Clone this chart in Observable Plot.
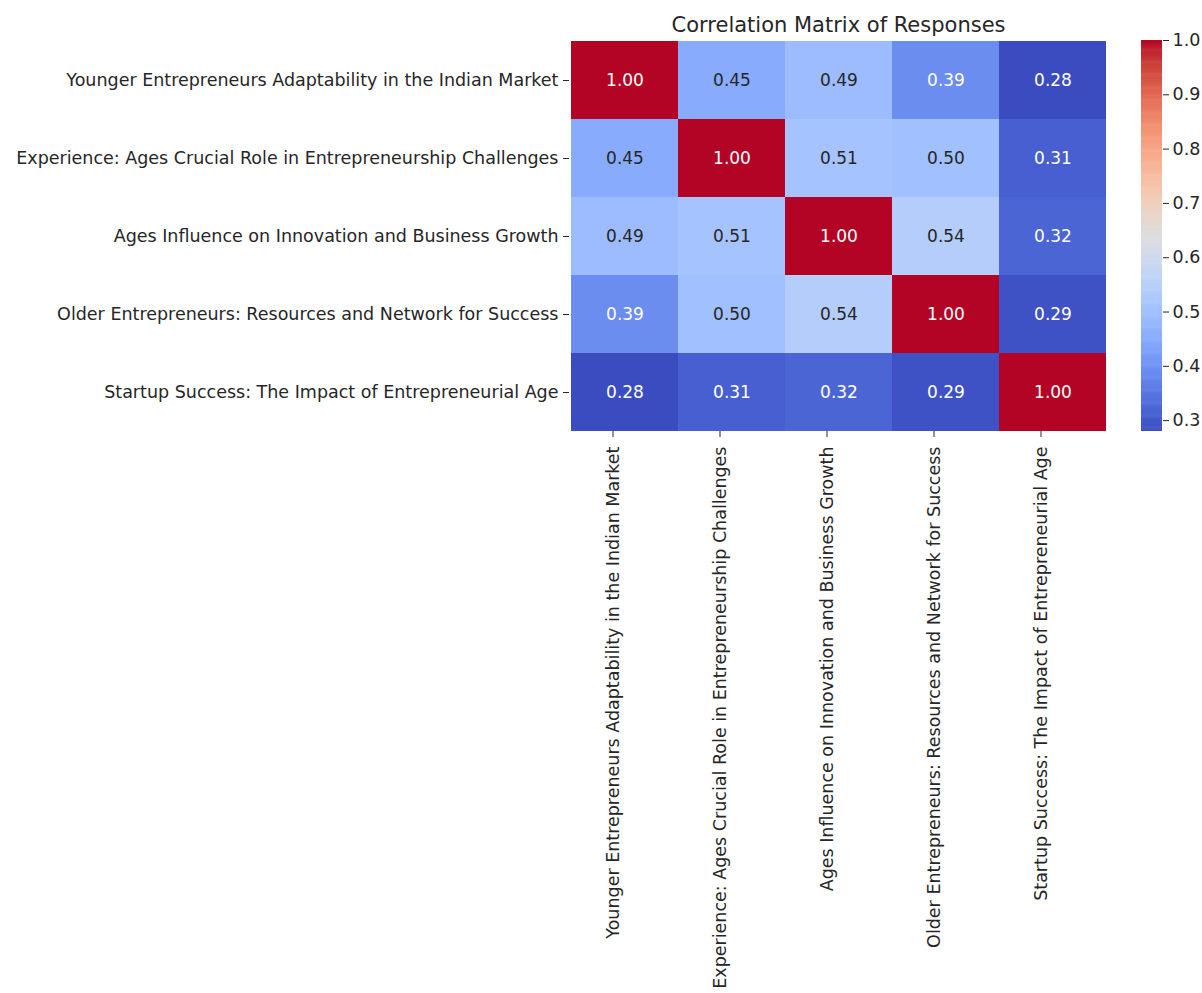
<!DOCTYPE html>
<html>
<head>
<meta charset="utf-8">
<script src="https://cdn.jsdelivr.net/npm/d3@7"></script>
<script src="https://cdn.jsdelivr.net/npm/@observablehq/plot@0.6"></script>
<style>
  html, body { margin: 0; padding: 0; background: #fff; }
  #wrap { position: relative; width: 1202px; height: 993px; font-family: "DejaVu Sans", sans-serif; }
  #wrap svg { position: absolute; top: 0; }
</style>
</head>
<body>
<div id="wrap"></div>
<script>
const title = "Correlation Matrix of Responses";
const labels = [
  "Younger Entrepreneurs Adaptability in the Indian Market",
  "Experience: Ages Crucial Role in Entrepreneurship Challenges",
  "Ages Influence on Innovation and Business Growth",
  "Older Entrepreneurs: Resources and Network for Success",
  "Startup Success: The Impact of Entrepreneurial Age"
];
const row0 = [1.00, 0.45, 0.49, 0.39, 0.28];
const row1 = [0.45, 1.00, 0.51, 0.50, 0.31];
const row2 = [0.49, 0.51, 1.00, 0.54, 0.32];
const row3 = [0.39, 0.50, 0.54, 1.00, 0.29];
const row4 = [0.28, 0.31, 0.32, 0.29, 1.00];
const matrix = [row0, row1, row2, row3, row4];
const colorbarTicks = [0.3, 0.4, 0.5, 0.6, 0.7, 0.8, 0.9, 1.0];
const vmin = 0.28, vmax = 1.0;

// matplotlib "coolwarm" control colours
const coolwarm = ["#3b4cc0","#445acc","#4d68d7","#5775e1","#6282ea","#6c8ef1","#779af7","#82a5fb","#8db0fe","#98b9ff","#a3c2ff","#aec9fd","#b8d0f9","#c2d5f4","#ccd9ee","#d5dbe6","#dddddd","#e5d8d1","#ecd3c5","#f1ccb8","#f5c4ac","#f7bb9f","#f7b194","#f7a688","#f59b7b","#f1906f","#ec7f63","#e57058","#de604d","#d55043","#cb3e38","#c0282f","#b40426"];
const interp = d3.piecewise(d3.interpolateRgb, coolwarm);

const cells = [];
matrix.forEach((row, i) => row.forEach((v, j) => cells.push({row: labels[i], col: labels[j], value: v})));

function textColor(v) {
  const c = d3.rgb(interp((v - vmin) / (vmax - vmin)));
  const lum = (0.2126 * c.r + 0.7152 * c.g + 0.0722 * c.b) / 255;
  return lum > 0.58 ? "#262626" : "#ffffff";
}

const colorOpts = {type: "linear", domain: [vmin, vmax], interpolate: interp};
const W = 1202, H = 993;
const frameTop = 40, frameBottom = 431;
const FS = 17.5;

const mainChart = Plot.plot({
  width: W, height: H,
  marginLeft: 569, marginRight: W - 1107, marginTop: frameTop, marginBottom: H - frameBottom,
  style: {fontFamily: "DejaVu Sans, sans-serif", fontSize: FS + "px", color: "#262626", background: "transparent"},
  x: {domain: labels, padding: 0, label: null, axis: null},
  y: {domain: labels, padding: 0, label: null, axis: null},
  color: colorOpts,
  marks: [
    Plot.cell(cells, {x: "col", y: "row", fill: "value"}),
    Plot.text(cells, {x: "col", y: "row", text: d => d.value.toFixed(2), fill: d => textColor(d.value), fontSize: 17}),
    Plot.axisY({tickSize: 6, tickPadding: 5, fontSize: FS, label: null}),
    Plot.axisX({tickSize: 6, tickPadding: 9, tickRotate: -90, fontSize: FS, label: null, dx: -12}),
    Plot.text([title], {frameAnchor: "top", dy: -23, text: d => d, fontSize: 21, fill: "#262626"})
  ]
});

const stepN = 360;
const stepH = (vmax - vmin) / stepN;
const steps = d3.range(0, stepN).map(i => vmin + i * stepH);
const barChart = Plot.plot({
  width: 80, height: H,
  marginLeft: 0, marginRight: 59, marginTop: frameTop, marginBottom: H - frameBottom,
  style: {fontFamily: "DejaVu Sans, sans-serif", fontSize: FS + "px", color: "#262626", background: "transparent"},
  x: {domain: [0, 1], axis: null},
  y: {domain: [vmin, vmax], axis: "right", ticks: colorbarTicks, tickFormat: ".1f", label: null, tickSize: 6, tickPadding: 4},
  color: colorOpts,
  marks: [
    Plot.rect(steps, {x1: 0, x2: 1, y1: d => d, y2: d => Math.min(vmax, d + stepH * 1.5), fill: d => d + stepH / 2})
  ]
});

const wrap = document.getElementById("wrap");
mainChart.style.left = "0px";
barChart.style.left = "1141px";
wrap.appendChild(mainChart);
wrap.appendChild(barChart);
</script>
</body>
</html>
